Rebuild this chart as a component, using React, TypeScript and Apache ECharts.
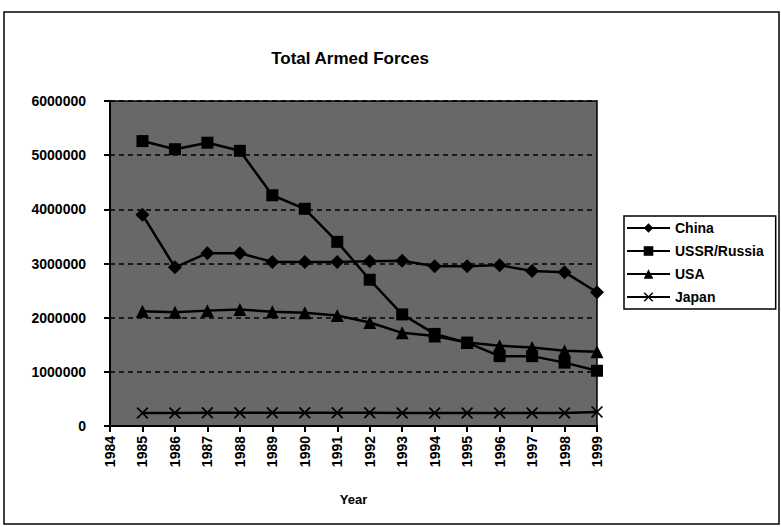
import React, { useEffect, useRef } from "react";
import * as echarts from "echarts";

const years = [1985, 1986, 1987, 1988, 1989, 1990, 1991, 1992, 1993, 1994, 1995, 1996, 1997, 1998, 1999];
const china = [3900000, 2930000, 3190000, 3190000, 3030000, 3030000, 3030000, 3040000, 3050000, 2950000, 2950000, 2970000, 2860000, 2840000, 2470000];
const ussr = [5260000, 5110000, 5230000, 5080000, 4260000, 4010000, 3400000, 2700000, 2060000, 1700000, 1540000, 1290000, 1290000, 1170000, 1020000];
const usa = [2120000, 2100000, 2130000, 2150000, 2110000, 2090000, 2040000, 1910000, 1720000, 1660000, 1540000, 1480000, 1450000, 1390000, 1370000];
const japan = [240000, 240000, 245000, 245000, 245000, 245000, 245000, 245000, 240000, 240000, 240000, 240000, 240000, 240000, 260000];

const seriesNames = ["China", "USSR/Russia", "USA", "Japan"];
const title = "Total Armed Forces";
const xTitle = "Year";

const crossSymbol = "path://M0,1L1,0L5,4L9,0L10,1L6,5L10,9L9,10L5,6L1,10L0,9L4,5Z";
const FONT = "Liberation Sans, Arial, sans-serif";

export default function App() {
  const ref = useRef<HTMLDivElement>(null);
  useEffect(() => {
    if (!ref.current) return;
    const chart = echarts.init(ref.current, null, { renderer: "svg" });
    const mk = (name: string, vals: number[], symbol: string, size: number) => ({
      name,
      type: "line",
      data: years.map((y, i) => [y, vals[i]]),
      symbol,
      symbolSize: size,
      lineStyle: { color: "#000", width: 2.5 },
      itemStyle: { color: "#000" },
    });
    chart.setOption({
      animation: false,
      backgroundColor: "#fff",
      title: {
        text: title,
        left: 345,
        textAlign: "center",
        top: 45,
        textStyle: { fontFamily: FONT, fontWeight: "bold", fontSize: 17, color: "#000" },
      },
      grid: { left: 110, top: 101, right: 184, bottom: 101, show: true, backgroundColor: "#686868", borderColor: "#000", borderWidth: 1.5 },
      legend: {
        orient: "vertical",
        left: 624,
        top: 216,
        data: seriesNames,
        itemWidth: 43,
        itemHeight: 12,
        itemGap: 9,
        backgroundColor: "#fff",
        borderColor: "#000",
        borderWidth: 1.5,
        borderRadius: 0,
        padding: [5, 12, 5, 2],
        textStyle: { fontFamily: FONT, fontWeight: "bold", fontSize: 14, color: "#000" },
      },
      xAxis: {
        type: "value",
        min: 1984,
        max: 1999,
        interval: 1,
        name: xTitle,
        nameLocation: "middle",
        nameGap: 67,
        nameTextStyle: { fontFamily: FONT, fontWeight: "bold", fontSize: 13, color: "#000" },
        axisLine: { lineStyle: { color: "#000", width: 2 } },
        axisTick: { show: true, length: 6, lineStyle: { color: "#000", width: 2 } },
        splitLine: { show: false },
        axisLabel: {
          rotate: 90,
          margin: 10,
          formatter: (v: number) => String(v),
          fontFamily: FONT,
          fontWeight: "bold",
          fontSize: 14,
          color: "#000",
        },
      },
      yAxis: {
        type: "value",
        min: 0,
        max: 6000000,
        interval: 1000000,
        axisLine: { show: true, lineStyle: { color: "#000", width: 2 } },
        axisTick: { show: true, length: 6, lineStyle: { color: "#000", width: 2 } },
        splitLine: { show: true, lineStyle: { color: "#000", width: 1.5, type: [5, 4] } },
        axisLabel: {
          margin: 24,
          fontFamily: FONT,
          fontWeight: "bold",
          fontSize: 14,
          color: "#000",
          formatter: (v: number) => String(v),
        },
      },
      graphic: [
        {
          type: "rect",
          shape: { x: 4, y: 12, width: 775, height: 512 },
          style: { fill: "none", stroke: "#000", lineWidth: 1.5 },
          silent: true,
          z: -10,
        },
      ],
      series: [
        mk(seriesNames[0], china, "diamond", 14),
        mk(seriesNames[1], ussr, "rect", 12),
        mk(seriesNames[2], usa, "triangle", 13),
        mk(seriesNames[3], japan, crossSymbol, 12),
      ],
    });
    return () => chart.dispose();
  }, []);
  return <div ref={ref} style={{ position: "fixed", left: 0, top: 0, width: 781, height: 527 }} />;
}
